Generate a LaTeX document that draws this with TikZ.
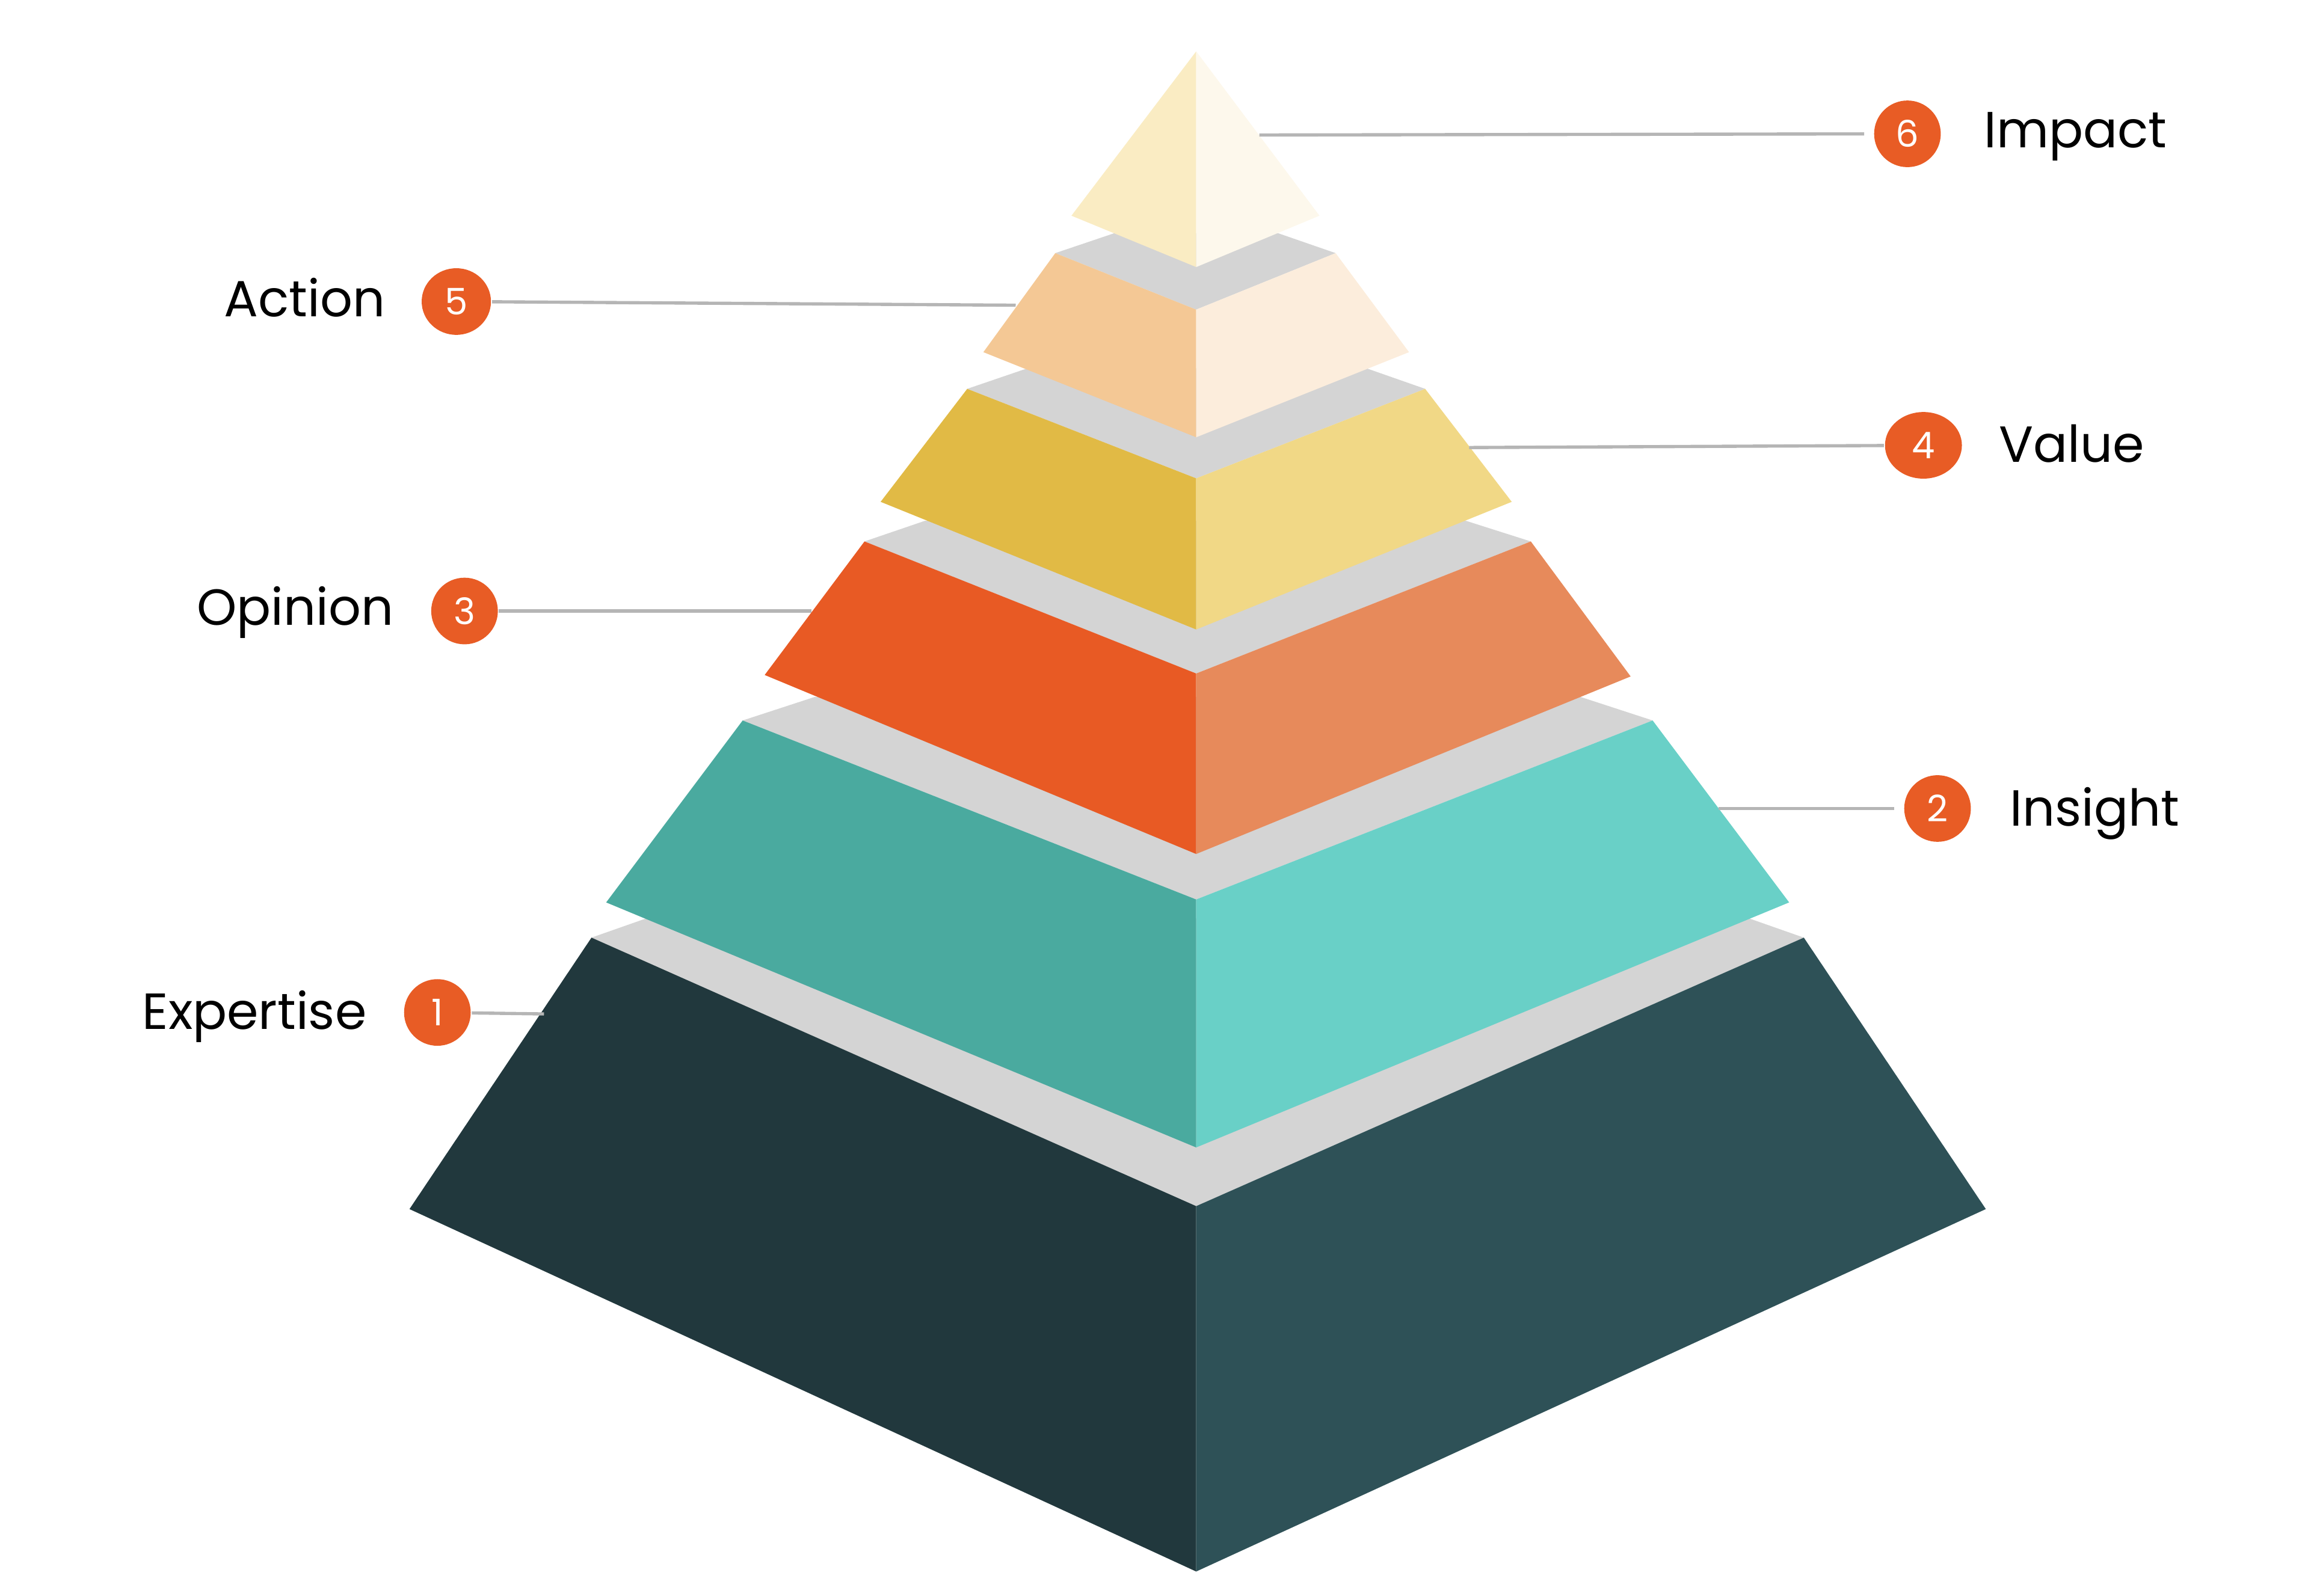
\documentclass[tikz,border=0pt]{standalone}
\usepackage{fontspec}
\setmainfont{Poppins}
\usetikzlibrary{shapes.geometric}

\definecolor{topGray}{HTML}{D4D4D4}
\definecolor{leaderGray}{HTML}{B5B5B5}
\definecolor{badgeOrange}{HTML}{E85C25}
\definecolor{expertiseL}{HTML}{21383D}
\definecolor{expertiseR}{HTML}{2E5157}
\definecolor{insightL}{HTML}{4AAA9F}
\definecolor{insightR}{HTML}{69D0C7}
\definecolor{opinionL}{HTML}{E85A24}
\definecolor{opinionR}{HTML}{E78A5B}
\definecolor{valueL}{HTML}{E1BA45}
\definecolor{valueR}{HTML}{F1D886}
\definecolor{actionL}{HTML}{F4C895}
\definecolor{actionR}{HTML}{FCEDDC}
\definecolor{impactL}{HTML}{FAECC3}
\definecolor{impactR}{HTML}{FDF8EC}

\tikzset{every picture/.style={line width=0.75pt}}
\tikzset{
  badge/.style={ellipse, fill=badgeOrange, text=white, inner sep=0pt,
    minimum width=22.7pt, minimum height=22.7pt, font=\fontsize{12.5}{14}\selectfont},
  leader/.style={draw=leaderGray, line width=1.1pt},
  tiertext/.style={inner sep=0pt, font=\fontsize{17.3}{20}\selectfont},
  face/.style={draw=none}
}

\begin{document}
\begin{tikzpicture}[x=0.5pt,y=0.5pt,yscale=-1,xscale=1]
%set diagram left start at 0, and has height of 1087.7
\path [use as bounding box] (0,0) rectangle (1566.4,1087.7);

%Shape: Polygon -- tier 1
\draw [face, fill=topGray] (403,639) -- (440,626) -- (1192,626) -- (1229,639) -- (815,822) -- cycle;
\draw [face, fill=expertiseL] (403,639) -- (279,824) -- (815,1071) -- (815,822) -- cycle;
\draw [face, fill=expertiseR] (1229,639) -- (1353,824) -- (815,1071) -- (815,822) -- cycle;
%Shape: Polygon -- tier 2
\draw [face, fill=topGray] (506,491) -- (555,475) -- (1077,475) -- (1126,491) -- (815,613) -- cycle;
\draw [face, fill=insightL] (506,491) -- (413,615) -- (815,782) -- (815,613) -- cycle;
\draw [face, fill=insightR] (1126,491) -- (1219,615) -- (815,782) -- (815,613) -- cycle;
%Shape: Polygon -- tier 3
\draw [face, fill=topGray] (589,369) -- (630,355) -- (999,355) -- (1043,369) -- (815,459) -- cycle;
\draw [face, fill=opinionL] (589,369) -- (521,460) -- (815,582) -- (815,459) -- cycle;
\draw [face, fill=opinionR] (1043,369) -- (1111,461) -- (815,582) -- (815,459) -- cycle;
%Shape: Polygon -- tier 4
\draw [face, fill=topGray] (659,265) -- (700,251) -- (931,251) -- (971,265) -- (815,326) -- cycle;
\draw [face, fill=valueL] (659,265) -- (600,342) -- (815,429) -- (815,326) -- cycle;
\draw [face, fill=valueR] (971,265) -- (1030,342) -- (815,429) -- (815,326) -- cycle;
%Shape: Polygon -- tier 5
\draw [face, fill=topGray] (719,172.5) -- (759,159) -- (871,159) -- (910,172.5) -- (815,211) -- cycle;
\draw [face, fill=actionL] (719,172.5) -- (670,240) -- (815,298) -- (815,211) -- cycle;
\draw [face, fill=actionR] (910,172.5) -- (960,240) -- (815,298) -- (815,211) -- cycle;
%Shape: Polygon -- tier 6
\draw [face, fill=impactL] (815,35) -- (730,147) -- (815,182) -- cycle;
\draw [face, fill=impactR] (815,35) -- (899,147) -- (815,182) -- cycle;

%Leader ends on the pyramid
\coordinate (e6) at (858,92);
\coordinate (e5) at (692,208);
\coordinate (e4) at (1001,305);
\coordinate (e3) at (553,416.4);
\coordinate (e2) at (1171,551);
\coordinate (e1) at (370.6,691);

%Shape: Circle -- badges
\node [badge] (b6) at (1299.6,91.2) {6};
\node [badge, minimum width=23.6pt] (b5) at (310.9,205.5) {5};
\node [badge, minimum width=26.2pt] (b4) at (1310.5,303.5) {4};
\node [badge] (b3) at (316.5,416.4) {3};
\node [badge] (b2) at (1320.1,551) {2};
\node [badge] (b1) at (298,690) {1};

\draw [leader, shorten <=3pt] (b6) -- (e6);
\draw [leader] (b5) -- (e5);
\draw [leader] (b4) -- (e4);
\draw [leader] (b3) -- (e3);
\draw [leader, shorten <=3pt] (b2) -- (e2);
\draw [leader] (b1) -- (e1);

\node [tiertext, anchor=base west] (t6) at (1351,100.6) {Impact};
\node [tiertext, anchor=base east] (t5) at (263.1,215.7) {Action};
\node [tiertext, anchor=base west] (t4) at (1361.4,314.9) {Value};
\node [tiertext, anchor=base east] (t3) at (268.9,426.1) {Opinion};
\node [tiertext, anchor=base west] (t2) at (1368.9,562.8) {Insight};
\node [tiertext, anchor=base east] (t1) at (250.5,701.5) {Expertise};

\end{tikzpicture}
\end{document}
